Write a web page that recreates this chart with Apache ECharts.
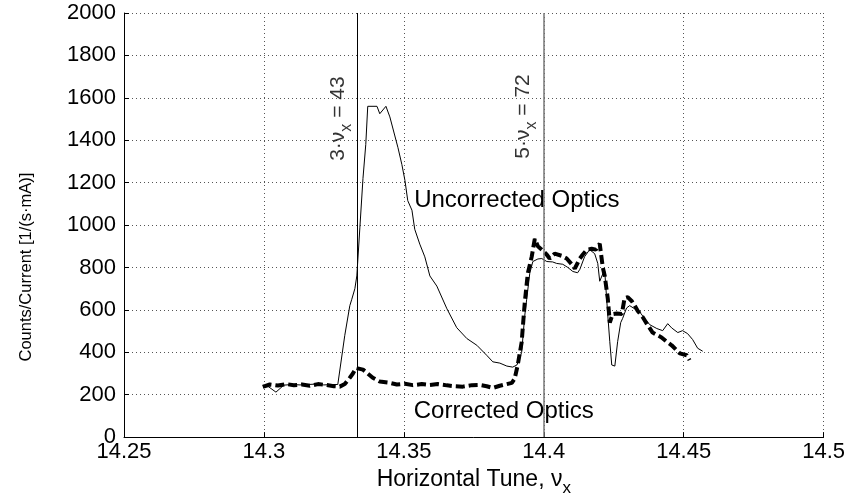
<!DOCTYPE html>
<html><head><meta charset="utf-8">
<script src="https://cdn.jsdelivr.net/npm/echarts@6/dist/echarts.min.js"></script>
<style>html,body{margin:0;padding:0;background:#fff}#c{width:848px;height:502px}</style>
</head><body><div id="c"></div>
<script>
// Uncorrected optics (thin solid)
const uncorrX = [14.2996,14.3014,14.3043,14.3071,14.3100,14.3129,14.3157,14.3186,14.3214,14.3243,14.3264,14.3289,14.3307,14.3314,14.3325,14.3332,14.3343,14.3354,14.3364,14.3371,14.3404,14.3414,14.3436,14.3450,14.3468,14.3479,14.3493,14.3504,14.3514,14.3529,14.3539,14.3557,14.3575,14.3593,14.3618,14.3654,14.3689,14.3725,14.3761,14.3796,14.3818,14.3843,14.3868,14.3889,14.3904,14.3914,14.3921,14.3932,14.3939,14.3950,14.3961,14.3979,14.3993,14.4011,14.4032,14.4046,14.4068,14.4086,14.4104,14.4121,14.4129,14.4146,14.4164,14.4171,14.4182,14.4193,14.4200,14.4211,14.4218,14.4229,14.4236,14.4243,14.4254,14.4264,14.4275,14.4282,14.4296,14.4307,14.4325,14.4343,14.4361,14.4379,14.4404,14.4425,14.4443,14.4457,14.4479,14.4496,14.4514,14.4532,14.4550,14.4568];
const uncorrY = [245,240,212,245,248,246,248,250,246,248,248,480,620,650,700,760,990,1220,1380,1560,1560,1525,1560,1510,1420,1365,1285,1210,1115,1070,980,910,850,760,712,605,516,465,433,386,355,349,335,330,340,372,400,572,650,772,828,840,842,828,826,819,815,800,781,775,791,851,884,888,865,819,735,770,781,572,450,340,335,450,540,560,609,620,605,590,558,530,512,502,535,515,493,502,488,460,419,405,395];
// Corrected optics (thick dashed)
const corrX = [14.2996,14.3021,14.3050,14.3079,14.3107,14.3136,14.3164,14.3193,14.3221,14.3250,14.3271,14.3289,14.3307,14.3318,14.3329,14.3336,14.3354,14.3371,14.3389,14.3414,14.3450,14.3475,14.3504,14.3532,14.3564,14.3593,14.3621,14.3654,14.3682,14.3711,14.3743,14.3771,14.3796,14.3818,14.3843,14.3868,14.3886,14.3896,14.3907,14.3921,14.3932,14.3943,14.3957,14.3968,14.3979,14.3993,14.4011,14.4021,14.4039,14.4064,14.4082,14.4100,14.4111,14.4129,14.4139,14.4154,14.4171,14.4186,14.4200,14.4211,14.4218,14.4229,14.4236,14.4246,14.4261,14.4279,14.4289,14.4300,14.4314,14.4325,14.4336,14.4354,14.4368,14.4389,14.4407,14.4421,14.4439,14.4457,14.4486,14.4511,14.4521];
const corrY = [237,248,243,250,245,248,242,250,246,240,238,250,280,300,326,330,318,300,280,262,256,248,252,245,250,246,250,244,240,238,245,246,240,232,242,250,256,275,340,447,633,772,851,935,900,884,860,842,865,855,842,815,795,842,860,884,888,884,912,800,760,651,540,580,583,581,656,660,642,620,595,565,535,493,480,470,450,433,395,386,363];
// Resonance lines
const resonanceX = [14.33333, 14.4];
// Annotations
const noteTexts = ['{a|3·ν}{s|x}{a| = 43}', '{a|5·ν}{s|x}{a| = 72}'];
const noteX = [14.3275, 14.3936];
const noteY = [1502, 1512];
const curveNames = ['Uncorrected Optics', 'Corrected Optics'];
const curveNameX = [14.3904, 14.3857];
const curveNameY = [1118, 120];
const yTicks = {min: 0, max: 2000, step: 200};
const xTicks = {min: 14.25, max: 14.5, step: 0.05};

const FONT = 'Liberation Sans';
const zip = (xs, ys) => xs.map((x, i) => [x, ys[i]]);
const chart = echarts.init(document.getElementById('c'));
chart.setOption({
  animation: false,
  backgroundColor: '#fff',
  textStyle: {fontFamily: FONT, color: '#000'},
  grid: {left: 124, right: 24, top: 13, bottom: 59},
  xAxis: {
    type: 'value', min: xTicks.min, max: xTicks.max, interval: xTicks.step,
    name: '{a|Horizontal Tune, ν}{s|x}', nameLocation: 'middle', nameGap: 28,
    nameTextStyle: {rich: {
      a: {fontFamily: FONT, fontSize: 23, color: '#000', verticalAlign: 'top', lineHeight: 25},
      s: {fontFamily: FONT, fontSize: 17, color: '#000', verticalAlign: 'top', padding: [12, 0, 0, 0]}
    }},
    axisLine: {lineStyle: {color: '#000', width: 1}},
    axisTick: {inside: true, length: 5, lineStyle: {color: '#000'}},
    axisLabel: {fontSize: 22, color: '#000', margin: 4, fontFamily: FONT,
      formatter: v => String(parseFloat(v.toFixed(2)))},
    splitLine: {show: true, lineStyle: {color: '#555', type: [1, 3], width: 1}}
  },
  yAxis: {
    type: 'value', min: yTicks.min, max: yTicks.max, interval: yTicks.step,
    name: 'Counts/Current [1/(s·mA)]', nameLocation: 'middle', nameGap: 89,
    nameTextStyle: {fontSize: 16.5, color: '#000', fontFamily: FONT, padding: [0, 84, 0, 0]},
    axisLine: {show: true, lineStyle: {color: '#000', width: 1}},
    axisTick: {show: true, inside: true, length: 5, lineStyle: {color: '#000'}},
    axisLabel: {fontSize: 22, color: '#000', margin: 8, fontFamily: FONT, formatter: v => String(v)},
    splitLine: {show: true, lineStyle: {color: '#555', type: [1, 3], width: 1}}
  },
  series: [
    {
      type: 'line', name: curveNames[0], data: zip(uncorrX, uncorrY),
      showSymbol: false, symbol: 'none', z: 3,
      lineStyle: {color: '#000', width: 1}
    },
    {
      type: 'line', name: curveNames[1], data: zip(corrX, corrY),
      showSymbol: false, symbol: 'none', z: 4,
      lineStyle: {color: '#000', width: 4, type: [9, 4]}
    },
    {
      type: 'line', data: [], z: 2,
      markLine: {
        silent: true, symbol: ['none', 'none'], label: {show: false}, precision: 6,
        data: [
          {xAxis: resonanceX[0], lineStyle: {color: '#000', width: 1, type: 'solid'}},
          {xAxis: resonanceX[1], lineStyle: {color: '#777', width: 1.5, type: 'solid'}}
        ]
      }
    },
    {
      type: 'scatter', symbolSize: 0, z: 6, silent: true,
      data: noteTexts.map((t, i) => ({value: [noteX[i], noteY[i]], label: {formatter: t}})),
      label: {show: true, position: 'inside', rotate: 90, color: '#000', textBorderWidth: 0,
        rich: {
          a: {fontFamily: FONT, fontSize: 21, color: '#000', verticalAlign: 'top', lineHeight: 23},
          s: {fontFamily: FONT, fontSize: 16, color: '#000', verticalAlign: 'top', padding: [11, 0, 0, 0]}
        }}
    },
    {
      type: 'scatter', symbolSize: 0, z: 6, silent: true,
      data: curveNames.map((t, i) => ({value: [curveNameX[i], curveNameY[i]], label: {formatter: t}})),
      label: {show: true, position: 'inside', color: '#000', fontSize: 24, fontFamily: FONT,
        textBorderWidth: 0, opacity: 1}
    }
  ]
});
</script></body></html>
